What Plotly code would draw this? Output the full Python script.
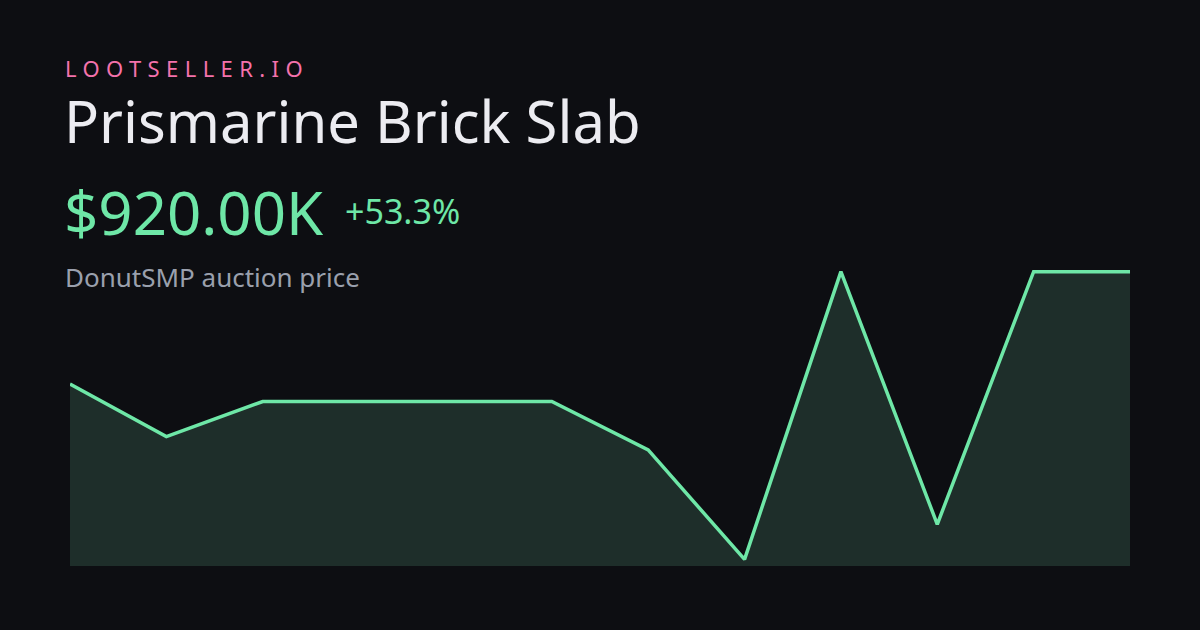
import plotly.graph_objects as go

# ---- data ----
periods = list(range(12))
prices_k = [600, 450, 550, 550, 550, 550, 412, 100, 920, 200, 920, 920]

brand = "LOOTSELLER.IO"
item_name = "Prismarine Brick Slab"
price_label = "$920.00K"
change_label = "+53.3%"
subtitle = "DonutSMP auction price"

W, H = 1200, 630
ML, MR, MT, MB = 70, 70, 200, 64
BG = "#0d0e12"
GREEN = "#6ee7a7"
FILL = "#1e2e2a"
FONT = "Noto Sans"

fig = go.Figure()
fig.add_trace(go.Scatter(
    x=periods, y=prices_k, mode="lines",
    line=dict(color=GREEN, width=3.5, shape="linear"),
    fill="tozeroy", fillcolor=FILL,
    hoverinfo="skip", showlegend=False,
))

pw = W - ML - MR
ph = H - MT - MB


def px(xp):
    return (xp - ML) / pw


def py(yp):
    return (H - MB - yp) / ph


def label(text, xp, yp, size, color, **kw):
    fig.add_annotation(
        text=text, x=px(xp), y=py(yp), xref="paper", yref="paper",
        xanchor="left", yanchor="middle", showarrow=False,
        font=dict(family=FONT, size=size, color=color), **kw)


label('<span style="letter-spacing:6.4px">' + brand + '</span>', 63, 68.2, 22, "#f472ac")
label(item_name, 62, 120.5, 58, "#ececf1")
label(price_label, 62, 211.5, 60, GREEN)
label(change_label, 343, 210.5, 34, GREEN)
label(subtitle, 63, 276.5, 26, "#9aa0ad")

fig.update_layout(
    width=W, height=H,
    margin=dict(l=ML, r=MR, t=MT, b=MB),
    paper_bgcolor=BG, plot_bgcolor=BG,
    xaxis=dict(range=[0, 11], visible=False, fixedrange=True),
    yaxis=dict(range=[81.2, 1124.3], visible=False, fixedrange=True),
)

fig.write_html("out.html", config={"displayModeBar": False},
               post_script="document.body.style.margin='0';document.body.style.background='#0d0e12';")
